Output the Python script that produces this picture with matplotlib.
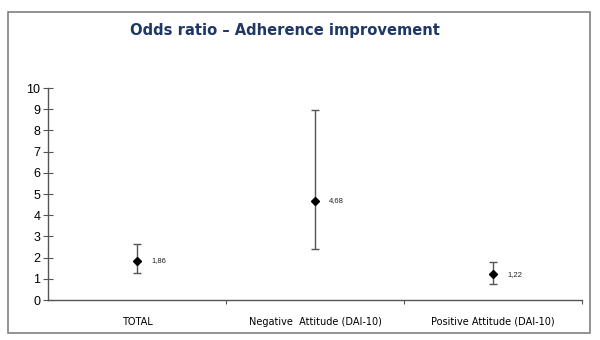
import matplotlib.pyplot as plt
from matplotlib.patches import Rectangle

categories = ['TOTAL', 'Negative  Attitude (DAI-10)', 'Positive Attitude (DAI-10)']
odds = [1.86, 4.68, 1.22]
ci_low = [1.27, 2.41, 0.75]
ci_high = [2.64, 8.96, 1.79]
value_labels = ['1,86', '4,68', '1,22']

plt.rcParams['font.family'] = ['Liberation Sans', 'DejaVu Sans']

fig = plt.figure(figsize=(6, 3.4), dpi=100)
fig.patches.append(Rectangle((0.0133, 0.0206), 0.97, 0.944, transform=fig.transFigure,
                             fill=False, edgecolor='#808080', linewidth=1.2))
fig.text(0.475, 0.91, 'Odds ratio \u2013 Adherence improvement', ha='center', va='center',
         fontsize=10.6, fontweight='bold', color='#1f3864', family='DejaVu Sans')

ax = fig.add_axes([0.08, 0.1176, 0.89, 0.6235])
x = [0.5, 1.5, 2.5]
yerr = [[o - l for o, l in zip(odds, ci_low)], [h - o for o, h in zip(odds, ci_high)]]
ax.errorbar(x, odds, yerr=yerr, fmt='none', ecolor='#555555', elinewidth=1.0,
            capsize=3, capthick=1.0)
ax.plot(x, odds, 'D', color='black', markersize=4.5, linestyle='none', zorder=3)
for xi, o, lab in zip(x, odds, value_labels):
    ax.text(xi + 0.08, o, lab, fontsize=5.5, va='center', ha='left', color='#222222')

ax.set_xlim(0, 3)
ax.set_ylim(0, 10)
ax.set_yticks(range(0, 11))
ax.set_xticks([1, 2, 3])
ax.set_xticklabels([])
ax.set_xticks(x, minor=True)
ax.set_xticklabels(categories, minor=True, fontsize=7, family='DejaVu Sans')
ax.tick_params(axis='x', which='minor', length=0, pad=12)
ax.tick_params(axis='x', which='major', length=3, direction='out', color='#555555')
ax.tick_params(axis='y', direction='inout', length=7, labelsize=9, pad=2, color='#555555')
for s in ['top', 'right']:
    ax.spines[s].set_visible(False)
for s in ['left', 'bottom']:
    ax.spines[s].set_color('#555555')
    ax.spines[s].set_linewidth(1.0)

fig.savefig('out.png', dpi=100)
